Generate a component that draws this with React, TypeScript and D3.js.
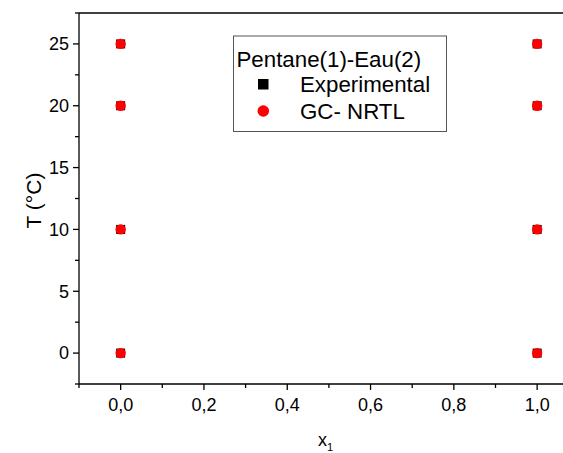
import React from "react";
import * as d3 from "d3";

const xValues = [0, 0, 0, 0, 1, 1, 1, 1];
const experimentalT = [0, 10, 20, 25, 0, 10, 20, 25];
const nrtlT = [0, 10, 20, 25, 0, 10, 20, 25];
const xMajorTicks = [0, 0.2, 0.4, 0.6, 0.8, 1.0];
const xMinorTicks = [-0.1, 0.1, 0.3, 0.5, 0.7, 0.9, 1.1];
const yMajorTicks = [0, 5, 10, 15, 20, 25];
const yMinorTicks = [-2.5, 2.5, 7.5, 12.5, 17.5, 22.5, 27.5];
const legendTitle = "Pentane(1)-Eau(2)";
const seriesNames = ["Experimental", "GC- NRTL"];

const W = 563;
const H = 453;
const left = 79;
const top = 13;
const bottom = 384;
const right = 578.8;
const font = "'Liberation Sans', Arial, sans-serif";

export default function App() {
  const x = d3.scaleLinear().domain([-0.1, 1.1]).range([left, right]);
  const y = d3.scaleLinear().domain([-2.5, 27.5]).range([bottom, top]);
  const fmt = (v: number) => v.toFixed(1).replace(".", ",");
  return (
    <svg
      width={W}
      height={H}
      style={{ position: "absolute", left: 0, top: 0, background: "#fff" }}
      fontFamily={font}
    >
      <rect x={0} y={0} width={W} height={H} fill="#fff" />
      {/* frame */}
      <line x1={left} x2={right} y1={top} y2={top} stroke="#000" strokeWidth={1.3} />
      <line x1={left} x2={right} y1={bottom} y2={bottom} stroke="#000" strokeWidth={1.3} />
      <line x1={left} x2={left} y1={top} y2={bottom} stroke="#000" strokeWidth={1.3} />
      {/* x ticks */}
      {xMajorTicks.map((t) => (
        <g key={"xm" + t}>
          <line x1={x(t)} x2={x(t)} y1={bottom} y2={bottom + 6} stroke="#000" strokeWidth={1.3} />
          <text x={x(t)} y={bottom + 27} textAnchor="middle" fontSize={18} fill="#000">
            {fmt(t)}
          </text>
        </g>
      ))}
      {xMinorTicks.map((t) => (
        <line key={"xn" + t} x1={x(t)} x2={x(t)} y1={bottom} y2={bottom + 4} stroke="#000" strokeWidth={1.3} />
      ))}
      {/* y ticks */}
      {yMajorTicks.map((t) => (
        <g key={"ym" + t}>
          <line x1={left} x2={left - 6} y1={y(t)} y2={y(t)} stroke="#000" strokeWidth={1.3} />
          <text x={left - 10} y={y(t) + 6.4} textAnchor="end" fontSize={18} fill="#000">
            {t}
          </text>
        </g>
      ))}
      {yMinorTicks.map((t) => (
        <line key={"yn" + t} x1={left} x2={left - 4} y1={y(t)} y2={y(t)} stroke="#000" strokeWidth={1.3} />
      ))}
      {/* axis titles */}
      <text
        transform={`translate(41,${(top + bottom) / 2 + 2}) rotate(-90)`}
        textAnchor="middle"
        fontSize={21}
        fill="#000"
      >
        T (°C)
      </text>
      <text x={318} y={446} fontSize={18} fill="#000">
        x
        <tspan fontSize={11} dy={5}>1</tspan>
      </text>
      {/* data */}
      {xValues.map((v, i) => (
        <rect
          key={"e" + i}
          x={x(v) - 4.5}
          y={y(experimentalT[i]) - 4.5}
          width={9}
          height={9}
          fill="#000"
        />
      ))}
      {xValues.map((v, i) => (
        <circle key={"n" + i} cx={x(v)} cy={y(nrtlT[i])} r={5.2} fill="#ff0000" />
      ))}
      {/* legend */}
      <rect x={233.5} y={36} width={213} height={95.5} fill="#fff" stroke="#555" strokeWidth={1} />
      <text x={236.5} y={66.5} fontSize={22.3} fill="#000">
        {legendTitle}
      </text>
      <rect x={258} y={79} width={10.5} height={10.5} fill="#000" />
      <text x={300} y={91.5} fontSize={22.3} fill="#000">
        {seriesNames[0]}
      </text>
      <circle cx={263.3} cy={111} r={5.8} fill="#ff0000" />
      <text x={300} y={119} fontSize={22.3} fill="#000">
        {seriesNames[1]}
      </text>
    </svg>
  );
}
